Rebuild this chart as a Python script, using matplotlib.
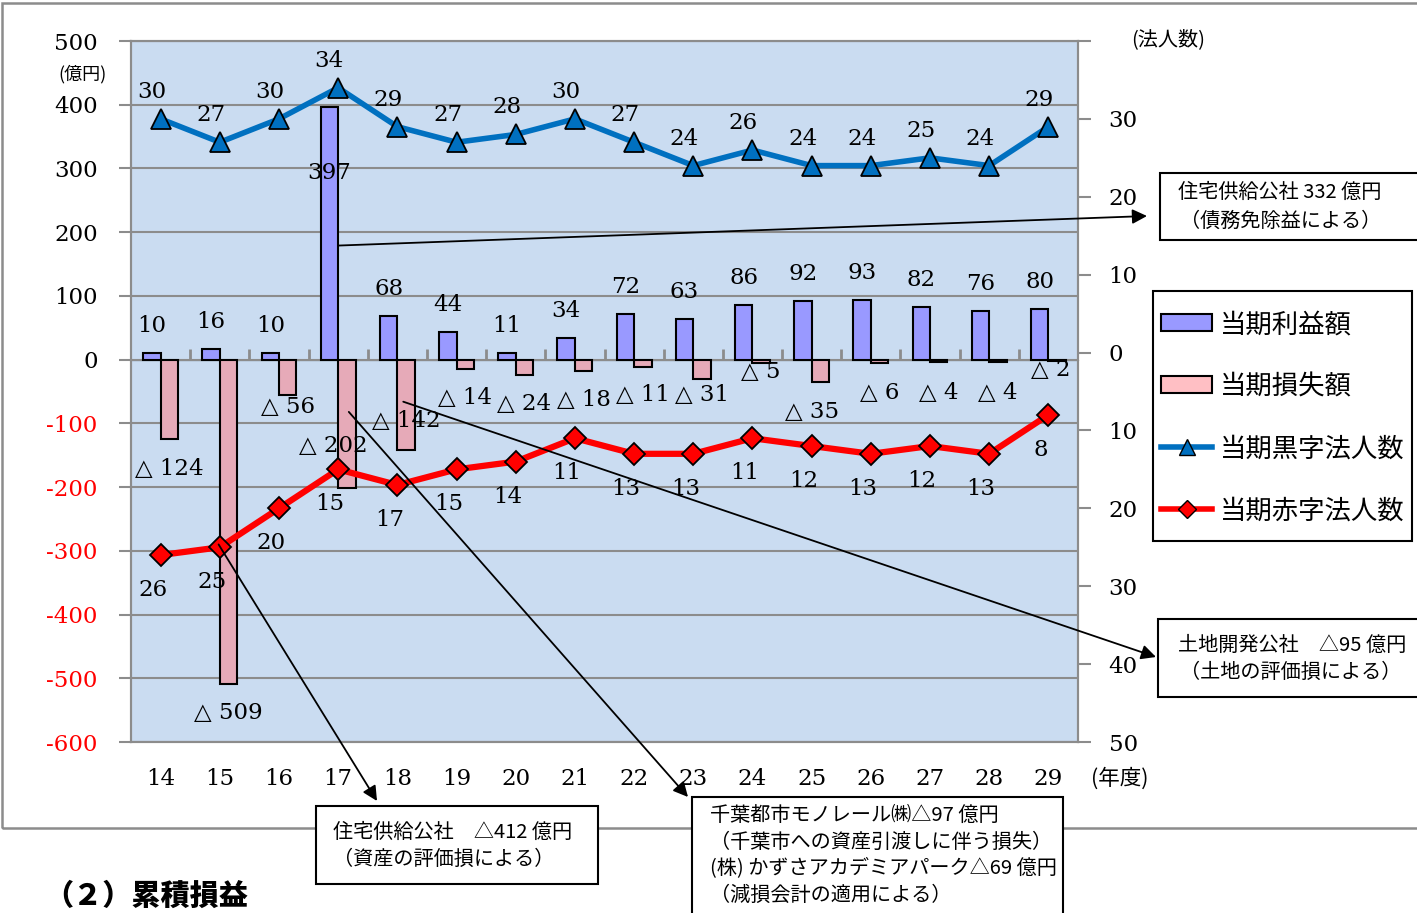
import matplotlib
matplotlib.use('Agg')
import matplotlib.pyplot as plt
from matplotlib.patches import Patch, Rectangle
from matplotlib.lines import Line2D

# ---------------- data ----------------
years = [14, 15, 16, 17, 18, 19, 20, 21, 22, 23, 24, 25, 26, 27, 28, 29]
profit = [10, 16, 10, 397, 68, 44, 11, 34, 72, 63, 86, 92, 93, 82, 76, 80]      # 当期利益額
loss = [124, 509, 56, 202, 142, 14, 24, 18, 11, 31, 5, 35, 6, 4, 4, 2]          # 当期損失額 (△)
black_count = [30, 27, 30, 34, 29, 27, 28, 30, 27, 24, 26, 24, 24, 25, 24, 29]  # 当期黒字法人数
red_count = [26, 25, 20, 15, 17, 15, 14, 11, 13, 13, 11, 12, 13, 12, 13, 8]     # 当期赤字法人数
left_ticks = [-600, -500, -400, -300, -200, -100, 0, 100, 200, 300, 400, 500]
right_ticks = [-50, -40, -30, -20, -10, 0, 10, 20, 30, 40]
legend_labels = ['当期利益額', '当期損失額', '当期黒字法人数', '当期赤字法人数']

# label placement styles (pixel x-offset, label y in axis units) for loss labels
loss_label_style = [(0, -171), (0, -555), (0, -75), (-14, -135), (0, -97), (0, -60),
                    (0, -69), (0, -63), (0, -56), (0, -56), (0, -19), (-8, -82),
                    (0, -53), (0, -52), (0, -52), (-6, -16)]

SERIF = ['DejaVu Serif', 'Noto Sans CJK JP', 'DejaVu Sans']
JP = ['Noto Sans CJK JP', 'DejaVu Sans']
plt.rcParams['font.family'] = SERIF

W, H = 1417, 913
def fx(px):
    return px / W
def fy(py):
    return 1 - py / H

GRAY = '#8c8c8c'
fig = plt.figure(figsize=(W / 100, H / 100), dpi=100)
fig.patch.set_facecolor('white')

# outer frame
fig.add_artist(Rectangle((fx(2), fy(828)), fx(1450) - fx(2), fy(3) - fy(828),
                         transform=fig.transFigure, fill=False, edgecolor=GRAY, lw=1.8, zorder=0))

ax = fig.add_axes([fx(131), fy(742), fx(1078) - fx(131), fy(41) - fy(742)])
ax.set_facecolor('#cadcf1')
ax.set_xlim(13.5, 29.5)
ax.set_ylim(-600, 500)
ax.set_axisbelow(True)
ax.yaxis.grid(True, color=GRAY, lw=1.5)

bw = 0.295
xp = [y - bw / 2 for y in years]
xl = [y + bw / 2 for y in years]
ax.bar(xp, profit, width=bw, color='#9999ff', edgecolor='black', lw=1.5, zorder=2)
ax.bar(xl, [-v for v in loss], width=bw, color='#e6aab8', edgecolor='black', lw=1.5, zorder=2)

# profit labels
for x, v in zip(xp, profit):
    dy = 27 if v < 300 else -66
    ax.annotate(str(v), (x, v), xytext=(0, dy), textcoords='offset pixels',
                ha='center', va='center', fontsize=16.5, zorder=6)
# loss labels
for x, v, (dx, ly) in zip(xl, loss, loss_label_style):
    ax.annotate('△ ' + str(v), (x, ly), xytext=(dx, 0), textcoords='offset pixels',
                ha='center', va='center', fontsize=16.5, zorder=6)

# ticks left
ax.set_yticks(left_ticks)
ax.set_yticklabels([str(v) for v in left_ticks])
for lbl, v in zip(ax.get_yticklabels(), left_ticks):
    lbl.set_color('#ff0000' if v < 0 else 'black')
ax.tick_params(axis='y', length=9, width=1.5, color=GRAY, pad=15, labelsize=16.5)
ax.set_xticks(years)
ax.set_xticklabels([str(y) for y in years])
ax.tick_params(axis='x', length=0, pad=19, labelsize=16.5)
for s in ax.spines.values():
    s.set_color(GRAY)
    s.set_linewidth(1.5)

# zero line with category separators
sec = ax.secondary_xaxis(600 / 1100)
sec.set_xticks([])
sec.set_xticks([y + 0.5 for y in years[:-1]], minor=True)
sec.tick_params(which='minor', length=8, width=2, color=GRAY, direction='out')
sec.spines['bottom'].set_color(GRAY)
sec.spines['bottom'].set_linewidth(2)

# right axis (counts)
ax2 = ax.twinx()
ax2.set_ylim(-50, 40)
ax2.plot(years, black_count, color='#0070c0', lw=4, marker='^', ms=14.5,
         mfc='#0070c0', mec='black', mew=1.3, zorder=3)
ax2.plot(years, [-c for c in red_count], color='#ff0000', lw=4.5, marker='D', ms=11,
         mfc='#ff0000', mec='black', mew=1.3, zorder=3)
for x, c in zip(years, black_count):
    ax2.annotate(str(c), (x, c), xytext=(-9, 27), textcoords='offset pixels',
                 ha='center', va='center', fontsize=16.5)
for x, c in zip(years, red_count):
    ax2.annotate(str(c), (x, -c), xytext=(-8, -35), textcoords='offset pixels',
                 ha='center', va='center', fontsize=16.5)
ax2.set_yticks(right_ticks)
ax2.set_yticklabels([str(abs(v)) if v != 40 else '' for v in right_ticks])
ax2.tick_params(axis='y', length=9, width=1.5, color=GRAY, pad=13, labelsize=16.5)
for s in ax2.spines.values():
    s.set_color(GRAY)
    s.set_linewidth(1.5)

# axis unit texts
fig.text(fx(82), fy(74), '(億円)', ha='center', va='center', family=JP, fontsize=13)
fig.text(fx(1168), fy(40), '(法人数)', ha='center', va='center', family=JP, fontsize=14.5)
fig.text(fx(1120), fy(779), '(年度)', ha='center', va='center', family=JP, fontsize=15.5)

# legend (frame drawn separately)
fig.add_artist(Rectangle((fx(1153), fy(541)), fx(1412) - fx(1153), fy(291) - fy(541),
                         transform=fig.transFigure, facecolor='white', edgecolor='black',
                         lw=1.5, zorder=4))
handles = [Patch(facecolor='#9999ff', edgecolor='black', lw=1.5),
           Patch(facecolor='#ffbfc4', edgecolor='black', lw=1.5),
           Line2D([], [], color='#0070c0', lw=4, marker='^', ms=12, mfc='#0070c0', mec='black'),
           Line2D([], [], color='#ff0000', lw=4, marker='D', ms=9, mfc='#ff0000', mec='black')]
leg = fig.legend(handles, legend_labels, loc='upper left',
                 bbox_to_anchor=(fx(1161), fy(311)), bbox_transform=fig.transFigure,
                 frameon=False, borderaxespad=0, borderpad=0,
                 prop={'family': JP, 'size': 19},
                 handlelength=1.95, handleheight=0.6, handletextpad=0.3,
                 labelspacing=1.33)
leg.set_zorder(5)

# annotation boxes
def box(x0, y0, x1, y1):
    fig.add_artist(Rectangle((fx(x0), fy(y1)), fx(x1) - fx(x0), fy(y0) - fy(y1),
                             transform=fig.transFigure, facecolor='white',
                             edgecolor='black', lw=1.5, zorder=10))

FS = 14.5
box(1160, 173, 1450, 240)
fig.text(fx(1178), fy(192), '住宅供給公社 332 億円', family=JP, fontsize=FS, va='center', zorder=11)
fig.text(fx(1180), fy(221), '（債務免除益による）', family=JP, fontsize=FS, va='center', zorder=11)

box(316, 806, 598, 884)
fig.text(fx(333), fy(832), '住宅供給公社　△412 億円', family=JP, fontsize=FS, va='center', zorder=11)
fig.text(fx(333), fy(859), '（資産の評価損による）', family=JP, fontsize=FS, va='center', zorder=11)

box(692, 797, 1063, 940)
fig.text(fx(710), fy(815), '千葉都市モノレール㈱△97 億円', family=JP, fontsize=FS, va='center', zorder=11)
fig.text(fx(710), fy(842), '（千葉市への資産引渡しに伴う損失）', family=JP, fontsize=FS, va='center', zorder=11)
fig.text(fx(710), fy(868), '(株) かずさアカデミアパーク△69 億円', family=JP, fontsize=FS, va='center', zorder=11)
fig.text(fx(710), fy(895), '（減損会計の適用による）', family=JP, fontsize=FS, va='center', zorder=11)

box(1158, 619, 1450, 697)
fig.text(fx(1178), fy(645), '土地開発公社　△95 億円', family=JP, fontsize=FS, va='center', zorder=11)
fig.text(fx(1180), fy(672), '（土地の評価損による）', family=JP, fontsize=FS, va='center', zorder=11)

# arrows
arrow_kw = dict(arrowstyle='-|>', color='black', lw=1.3, mutation_scale=22, shrinkA=0, shrinkB=0)
arrows = [((17.0, 179), (1147, 216)),
          ((14.98, -290), (377, 801)),
          ((17.18, -82), (688, 797)),
          ((18.1, -66), (1156, 657))]
for (sx, sy), (ex, ey) in arrows:
    ax2.annotate('', xy=(fx(ex), fy(ey)), xycoords='figure fraction',
                 xytext=(sx, sy), textcoords=ax.transData,
                 arrowprops=arrow_kw, annotation_clip=False, zorder=8)

# section heading
fig.text(fx(44), fy(896), '（２）累積損益', family=JP, fontsize=21, fontweight='black', va='center')

fig.savefig('out.png', dpi=100)
